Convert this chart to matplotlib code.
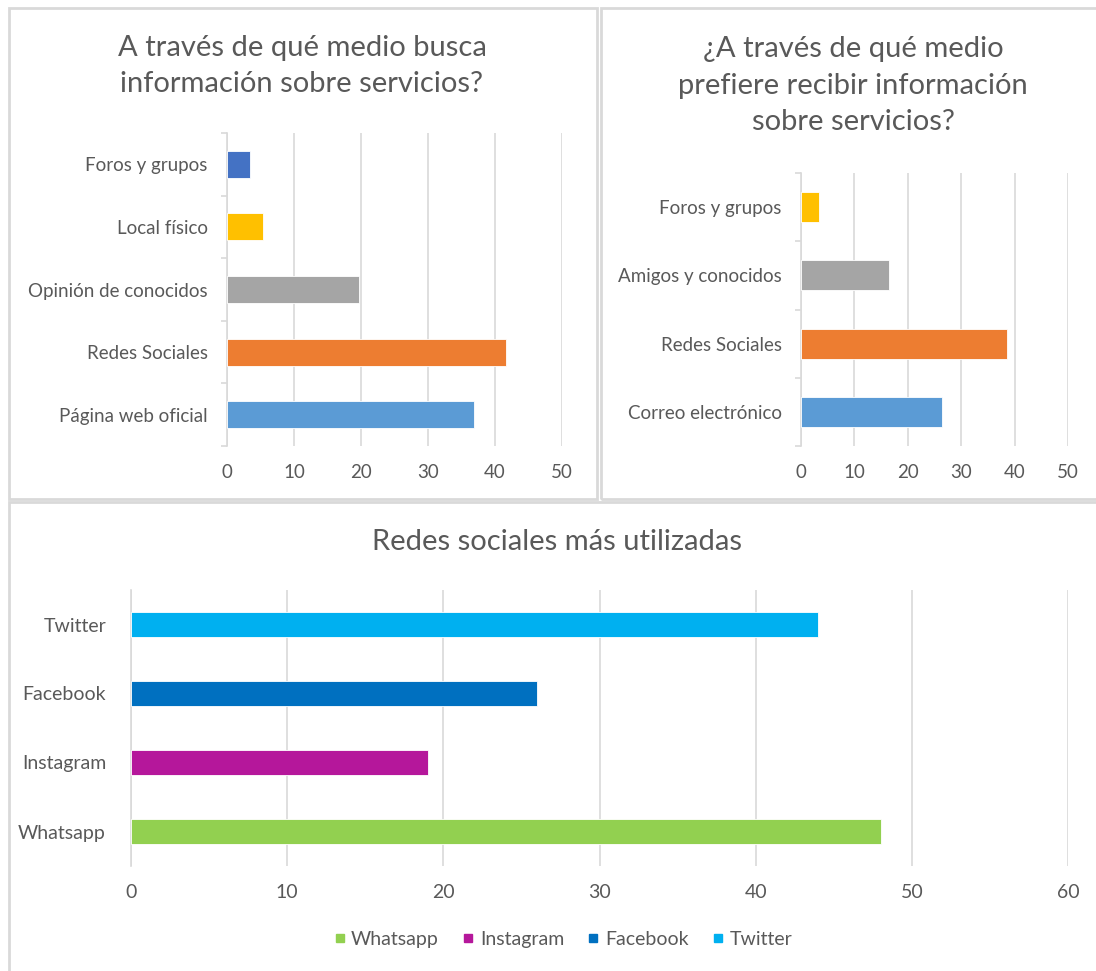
import matplotlib.pyplot as plt
from matplotlib.patches import Rectangle
from matplotlib.lines import Line2D
import numpy as np

plt.rcParams['font.family'] = ['Lato', 'DejaVu Sans']

TXT = '#595959'
GRID = '#d9d9d9'

# --- data --- #
busca_cats = ["Página web oficial", "Redes Sociales", "Opinión de conocidos", "Local físico", "Foros y grupos"]
busca_vals = [36.8, 41.6, 19.7, 5.4, 3.4]
busca_cols = ['#5B9BD5', '#ED7D31', '#A5A5A5', '#FFC000', '#4472C4']

prefiere_cats = ["Correo electrónico", "Redes Sociales", "Amigos y conocidos", "Foros y grupos"]
prefiere_vals = [26.4, 38.6, 16.5, 3.4]
prefiere_cols = ['#5B9BD5', '#ED7D31', '#A5A5A5', '#FFC000']

redes_cats = ["Whatsapp", "Instagram", "Facebook", "Twitter"]
redes_vals = [48, 19, 26, 44]
redes_cols = ['#92D050', '#B5179B', '#0070C0', '#00B0F0']

W, H = 1096, 971
fig = plt.figure(figsize=(W / 100, H / 100), dpi=100)


def px(x0, y0, x1, y1):
    # pixel box -> figure fraction [left, bottom, width, height]
    return [x0 / W, 1 - y1 / H, (x1 - x0) / W, (y1 - y0) / H]


# panel frames
for box in [(9, 8, 597, 499), (601, 8, 1100, 499), (9, 502, 1100, 980)]:
    l, b, w, h = px(*box)
    fig.add_artist(Rectangle((l, b), w, h, transform=fig.transFigure,
                             facecolor='none', edgecolor=GRID, linewidth=2))


def hbar(ax, cats, vals, cols, xmax, height, ticks=True, fs=13.5, pad=14):
    y = np.arange(len(cats))
    ax.barh(y, vals, height=height, color=cols, edgecolor='white',
            linewidth=0.6, zorder=3)
    ax.set_xlim(0, xmax)
    ax.set_ylim(-0.5, len(cats) - 0.5)
    ax.set_xticks(np.arange(0, xmax + 1, 10))
    ax.set_yticks(y)
    ax.set_yticklabels(cats)
    ax.grid(axis='x', color=GRID, linewidth=1.2, zorder=0)
    for s in ['top', 'right', 'bottom']:
        ax.spines[s].set_visible(False)
    ax.spines['left'].set_color(GRID)
    ax.spines['left'].set_linewidth(1.2)
    ax.tick_params(axis='x', length=0, pad=13, labelsize=fs, labelcolor=TXT)
    ax.tick_params(axis='y', which='major', length=0, pad=pad, labelsize=fs, labelcolor=TXT)
    if ticks:
        ax.set_yticks(np.arange(-0.5, len(cats), 1), minor=True)
        ax.tick_params(axis='y', which='minor', length=4, color=GRID, width=1.2)
    ax.set_axisbelow(True)


ax1 = fig.add_axes(px(227, 133, 562, 446))
hbar(ax1, busca_cats, busca_vals, busca_cols, 50, 0.43)
fig.text(302 / W, 1 - 66 / H, "A través de qué medio busca\ninformación sobre servicios?",
         ha='center', va='center', fontsize=21, color=TXT, linespacing=1.5)

ax2 = fig.add_axes(px(801, 173, 1068, 446))
hbar(ax2, prefiere_cats, prefiere_vals, prefiere_cols, 50, 0.44)
fig.text(853 / W, 1 - 86 / H, "¿A través de qué medio\nprefiere recibir información\nsobre servicios?",
         ha='center', va='center', fontsize=21, color=TXT, linespacing=1.5)

ax3 = fig.add_axes(px(131, 590, 1068, 866))
hbar(ax3, redes_cats, redes_vals, redes_cols, 60, 0.35, ticks=False, fs=14, pad=18)
fig.text(557 / W, 1 - 542 / H, "Redes sociales más utilizadas",
         ha='center', va='center', fontsize=21, color=TXT)

handles = [Line2D([], [], marker='s', linestyle='none', markersize=6,
                  markerfacecolor=c, markeredgecolor=c) for c in redes_cols]
fig.legend(handles, redes_cats, loc='center', bbox_to_anchor=(561 / W, 1 - 939 / H),
           ncol=4, frameon=False, fontsize=14, labelcolor=TXT,
           handletextpad=0.1, columnspacing=1.0, handlelength=1.0)

fig.savefig('out.png', dpi=100, facecolor='white')
